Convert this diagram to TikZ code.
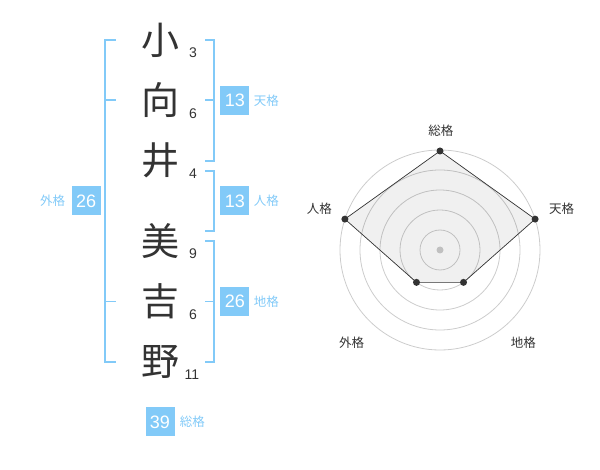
\documentclass[tikz,border=0pt]{standalone}
\usepackage{fontspec}
\setmainfont{Liberation Sans}
\newfontfamily\jp{Noto Sans CJK JP}
\usepackage{tikz}
\usetikzlibrary{positioning,calc}
\definecolor{kaku-blue}{HTML}{82CAF8}
\definecolor{ink}{HTML}{333333}
\definecolor{ring-gray}{HTML}{CCCCCC}

\begin{document}
\begin{tikzpicture}[x=1pt, y=1pt,
    kanji/.style={inner sep=0pt, minimum width=40pt, minimum height=60pt,
                  text=ink, font=\jp\fontsize{38}{38}\selectfont},
    strokes/.style={inner sep=0pt, text=ink, font=\fontsize{14}{14}\selectfont},
    kakubox/.style={fill=kaku-blue, text=white, minimum size=29pt, inner sep=0pt,
                    font=\fontsize{18}{18}\selectfont},
    kakulabel/.style={inner sep=0pt, text=kaku-blue, font=\jp\fontsize{12.5}{12.5}\selectfont},
    bracket/.style={draw=kaku-blue, line width=1.8pt},
    axislabel/.style={inner sep=0pt, text=ink, font=\jp\fontsize{12.5}{12.5}\selectfont},
    ring/.style={draw=ring-gray, line width=0.8pt}
]
  \useasboundingbox (0,0) rectangle (600,-470);

  % Name
  \node[kanji] (k1) at (160,-40) {小};
  \node[kanji, below=0pt of k1] (k2) {向};
  \node[kanji, below=0pt of k2] (k3) {井};
  \node[kanji, below=20pt of k3] (k4) {美};
  \node[kanji, below=0pt of k4] (k5) {吉};
  \node[kanji, below=0pt of k5] (k6) {野};

  % Stroke counts
  \node[strokes] (s1) at ($(k1)+(33,-13)$) {3};
  \node[strokes] (s2) at ($(k2)+(33,-13)$) {6};
  \node[strokes] (s3) at ($(k3)+(33,-13)$) {4};
  \node[strokes] (s4) at ($(k4)+(33,-12)$) {9};
  \node[strokes] (s5) at ($(k5)+(33,-13)$) {6};
  \node[strokes] (s6) at ($(k6)+(32,-13)$) {11};

  % Brackets
  \draw[bracket] ($(k1.west)+(-24,0)$) -- ++(-11,0) |- ($(k6.west)+(-24,0)$);
  \draw[bracket] ($(k2.west)+(-35,0)$) -- ++(11,0);
  \draw[bracket] ($(k5.west)+(-35,0)$) -- ++(11,0);
  \draw[bracket] ($(k1.east)+(25,0)$) -- ++(9,0) |- ($(k3.east)+(25,0)$);
  \draw[bracket] ($(k2.east)+(25,0)$) -- ++(9,0);
  \draw[bracket] ($(k3.east)+(25,-10)$) -- ++(9,0) |- ($(k4.east)+(25,10)$);
  \draw[bracket] ($(k4.east)+(25,0)$) -- ++(9,0) |- ($(k6.east)+(25,0)$);
  \draw[bracket] ($(k5.east)+(25,0)$) -- ++(9,0);

  % Kaku values
  \node[kakubox, anchor=west] (ten) at ($(k2.east)+(40,0)$) {13};
  \node[kakulabel, right=4pt of ten] (ten-l) {天格};
  \node[kakubox, anchor=west] (jin) at ($(k3.east)!0.5!(k4.east)+(40,0)$) {13};
  \node[kakulabel, right=4pt of jin] (jin-l) {人格};
  \node[kakubox, anchor=west] (chi) at ($(k5.east)+(40,0)$) {26};
  \node[kakulabel, right=4pt of chi] (chi-l) {地格};
  \node[kakubox, anchor=east] (gai) at ($(k3.west)!0.5!(k4.west)+(-39,0)$) {26};
  \node[kakulabel, left=6pt of gai] (gai-l) {外格};
  \node[kakubox, below=15pt of k6] (sou) {39};
  \node[kakulabel, right=5pt of sou] (sou-l) {総格};

  % Radar
  \coordinate (rc) at (440,-250);
  \foreach \r in {20,40,60,80,100}
    \draw[ring] (rc) circle[radius=\r pt];
  \fill[ring-gray] (rc) circle[radius=3.5pt];
  \foreach \name/\ang/\val in {sou/90/99, ten/18/100, chi/-54/40, gai/234/40, jin/162/100}
    \coordinate (p-\name) at ($(rc)+(\ang:\val pt)$);
  \filldraw[fill=black, fill opacity=0.06, draw=ink, line width=0.7pt]
    (p-sou) -- (p-ten) -- (p-chi) -- (p-gai) -- (p-jin) -- cycle;
  \foreach \name in {sou,ten,chi,gai,jin}
    \fill[ink] (p-\name) circle[radius=3.5pt];

  % Axis labels
  \node[axislabel] (a-sou) at ($(rc)+(0.8,119.2)$) {総格};
  \node[axislabel] (a-ten) at ($(rc)+(121.7,41.7)$) {天格};
  \node[axislabel] (a-jin) at ($(rc)+(-120.7,41.7)$) {人格};
  \node[axislabel] (a-gai) at ($(rc)+(-88.3,-92.3)$) {外格};
  \node[axislabel] (a-chi) at ($(rc)+(83.3,-92.3)$) {地格};

\end{tikzpicture}
\end{document}
